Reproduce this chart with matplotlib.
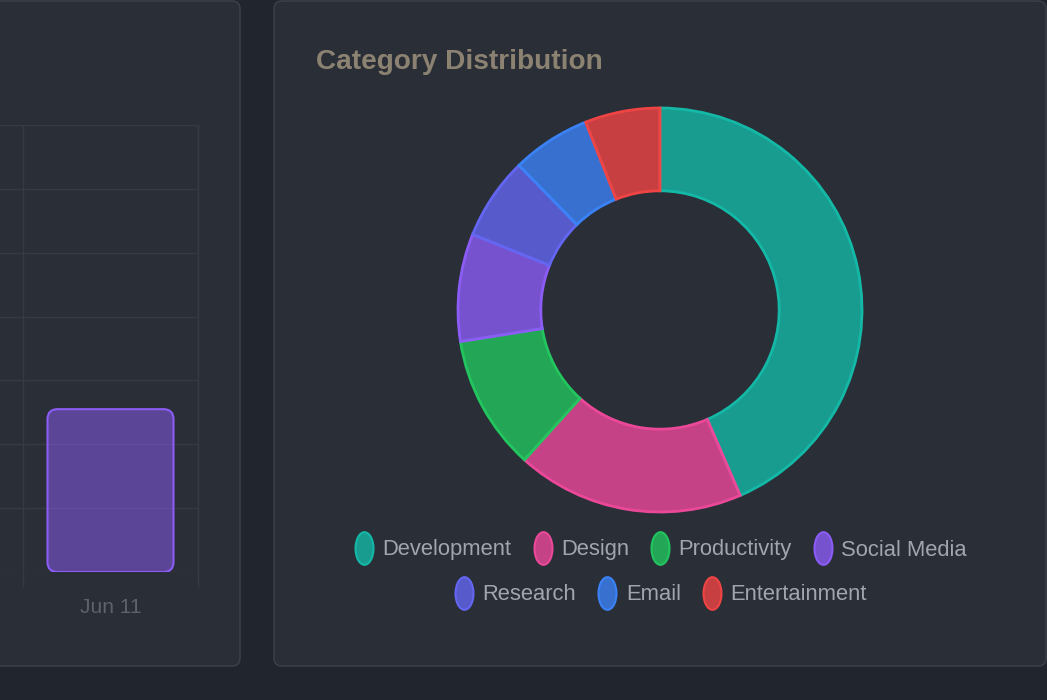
import matplotlib
matplotlib.use('Agg')
import matplotlib.pyplot as plt
from matplotlib.patches import FancyBboxPatch
from matplotlib.lines import Line2D
from matplotlib.path import Path
from matplotlib.colors import to_rgba

W, H = 1047, 700

# left panel (bar chart, only the last day is visible)
bar_labels = ['Jun 11']
bar_values = [2.55]
bar_ticks = [0, 1, 2, 3, 4, 5, 6, 7]

# right panel (donut)
categories = ['Development', 'Design', 'Productivity', 'Social Media',
              'Research', 'Email', 'Entertainment']
shares = [43.5, 18.2, 10.8, 8.6, 6.6, 6.3, 6.0]
colors = ['#14b8a6', '#ec4899', '#22c55e', '#8b5cf6',
          '#6366f1', '#3b82f6', '#ef4444']

plt.rcParams['font.family'] = ['Liberation Sans', 'DejaVu Sans']

PAGE = '#20252e'
PANEL = '#2a2e37'
BORDER = '#3a3e46'
GRID = '#363a43'

fig = plt.figure(figsize=(W / 100, H / 100), dpi=100, facecolor=PAGE)


def px_axes(x0, y0, x1, y1):
    # axes from a pixel box, y measured from the top
    return fig.add_axes([x0 / W, 1 - y1 / H, (x1 - x0) / W, (y1 - y0) / H])


# background cards
bg = px_axes(0, 0, W, H)
bg.set_xlim(0, W)
bg.set_ylim(H, 0)
bg.axis('off')
for x0, x1 in [(-20, 240), (274, 1046)]:
    bg.add_patch(FancyBboxPatch((x0, 1), x1 - x0, 665,
                                boxstyle='round,pad=0,rounding_size=8',
                                fc=PANEL, ec=BORDER, lw=1.2))

# bar chart
ax = px_axes(-152, 125, 198, 572)
ax.set_facecolor('none')
ax.set_xlim(-1.5, 0.5)
ax.set_ylim(bar_ticks[0], bar_ticks[-1])
bars = ax.bar(range(len(bar_values)), bar_values, width=0.72)
pos = ax.get_position()
px_x = pos.width * W / 2.0
px_y = pos.height * H / (bar_ticks[-1] - bar_ticks[0])
for b in bars:
    b.set_visible(False)
    ax.add_patch(FancyBboxPatch((b.get_x(), b.get_y()), b.get_width(), b.get_height(),
                                boxstyle='round,pad=0,rounding_size=%f' % (10 / px_x),
                                mutation_aspect=px_x / px_y,
                                fc=to_rgba('#8b5cf6', 0.5), ec='#8b5cf6', lw=1.5, zorder=3))
ax.set_yticks(bar_ticks)
ax.set_yticklabels([])
ax.tick_params(axis='y', length=0)
ax.set_xticks(range(len(bar_labels)))
ax.set_xticklabels(bar_labels, fontsize=15, color='#5d626c')
ax.tick_params(axis='x', which='major', length=0, pad=19)
ax.set_xticks([-0.5, 0.5], minor=True)
ax.tick_params(axis='x', which='minor', length=11, color=GRID, width=1)
ax.grid(True, which='major', axis='y', color=GRID, lw=1)
ax.grid(True, which='minor', axis='x', color=GRID, lw=1)
for name, s in ax.spines.items():
    s.set_visible(name == 'right')
    s.set_color(GRID)
    s.set_linewidth(1)

# donut
pax = px_axes(458, 108, 862, 512)
pax.set_facecolor('none')
fills = [to_rgba(c, 0.8) for c in colors]
wedges, _ = pax.pie(shares, colors=fills, startangle=90, counterclock=False,
                    radius=1, wedgeprops=dict(width=0.41, linewidth=2))
for w, c in zip(wedges, colors):
    w.set_edgecolor(c)
pax.set_xlim(-1, 1)
pax.set_ylim(-1, 1)

fig.text(316 / W, 1 - 69 / H, 'Category Distribution', fontsize=20.2,
         fontweight='bold', color='#8c8272', va='baseline')

# legend, two centered rows
circ = Path.unit_circle()
oval = Path(circ.vertices * [0.55, 1.0], circ.codes)
handles = [Line2D([], [], ls='none', marker=oval, markersize=23.5,
                  mfc=f, mec=c, mew=1.5) for f, c in zip(fills, colors)]
rows = [(0, 4, 550), (4, 7, 595)]
for i0, i1, y in rows:
    leg = fig.legend(handles[i0:i1], categories[i0:i1], ncol=i1 - i0,
                     loc='center', bbox_to_anchor=(660 / W, 1 - y / H),
                     frameon=False, fontsize=15.8, labelcolor='#a1a5ad',
                     handlelength=1.0, handletextpad=0.34, columnspacing=0.92,
                     borderaxespad=0, borderpad=0)

fig.savefig('out.png', dpi=100, facecolor=PAGE)
